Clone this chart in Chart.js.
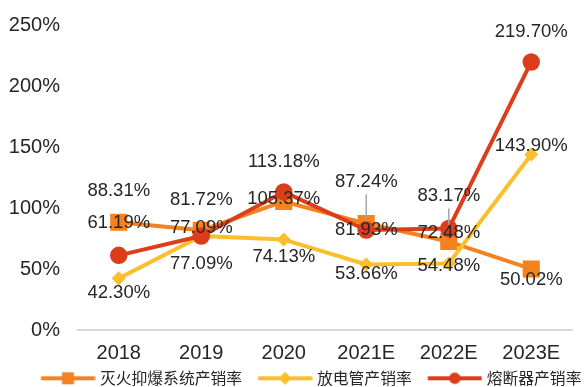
<!DOCTYPE html>
<html>
<head>
<meta charset="utf-8">
<script src="https://cdn.jsdelivr.net/npm/chart.js@4.4.1/dist/chart.umd.min.js"></script>
<style>
  html, body { margin: 0; padding: 0; background: #fff; overflow: hidden; }
  #wrap { width: 585px; height: 387px; position: relative; }
</style>
</head>
<body>
<div id="wrap"><canvas id="rate-chart"></canvas></div>
<script>
// categories and series (percent)
const years = ["2018", "2019", "2020", "2021E", "2022E", "2023E"];
const fireRate = [88.31, 81.72, 105.37, 87.24, 72.48, 50.02];
const tubeRate = [42.3, 77.09, 74.13, 53.66, 54.48, 143.9];
const fuseRate = [61.19, 77.09, 113.18, 81.93, 83.17, 219.7];
const yMax = 250;
const yStep = 50;

// label placement (vertical shift in px from the point), styling only
const fireLabelDy = [-31, -30, -3, -42, -9, 11];
const tubeLabelDy = [15, 28, 17, 9, 2, -9];
const fuseLabelDy = [-32, -8, -30, 0, -33, -30];
const fireLeader = [false, false, false, true, false, false];
const fuseLeader = [false, false, false, false, true, false];

const ORANGE = "#F4821F";
const YELLOW = "#FBBE2C";
const RED = "#DC3D1B";
const TEXT = "#262626";

// legend swatch: line with the marker in its middle
function legendIcon(color, style) {
  const c = document.createElement("canvas");
  c.width = 74;
  c.height = 16;
  const g = c.getContext("2d");
  g.strokeStyle = color;
  g.fillStyle = color;
  g.lineWidth = 4;
  g.beginPath();
  g.moveTo(19.5, 8);
  g.lineTo(73.5, 8);
  g.stroke();
  const cx = 46.5, cy = 8;
  g.beginPath();
  if (style === "rect") {
    g.rect(cx - 6, cy - 6, 12, 12);
  } else if (style === "rectRot") {
    g.moveTo(cx - 6.5, cy);
    g.lineTo(cx, cy - 6.5);
    g.lineTo(cx + 6.5, cy);
    g.lineTo(cx, cy + 6.5);
    g.closePath();
  } else {
    g.arc(cx, cy, 5.8, 0, Math.PI * 2);
  }
  g.fill();
  return c;
}

const icons = [legendIcon(ORANGE, "rect"), legendIcon(YELLOW, "rectRot"), legendIcon(RED, "circle")];

const labelPlugin = {
  id: "pointLabels",
  beforeDraw(chart) {
    // nudge the legend row to the right like the original
    if (chart.legend) chart.legend.left = 25;
  },
  afterDatasetsDraw(chart) {
    const ctx = chart.ctx;
    ctx.save();
    ctx.font = "18.5px 'Liberation Sans', Arial, sans-serif";
    ctx.fillStyle = TEXT;
    ctx.textAlign = "center";
    ctx.textBaseline = "middle";
    chart.data.datasets.forEach((ds, i) => {
      const meta = chart.getDatasetMeta(i);
      meta.data.forEach((pt, j) => {
        const y = pt.y + ds.labelDy[j];
        if (ds.leader[j]) {
          ctx.strokeStyle = "#a6a6a6";
          ctx.lineWidth = 1.5;
          ctx.beginPath();
          ctx.moveTo(pt.x, y + 13);
          ctx.lineTo(pt.x, pt.y - 4);
          ctx.stroke();
        }
        ctx.fillText(ds.data[j].toFixed(2) + "%", pt.x, y);
      });
    });
    ctx.restore();
  },
};

const common = {
  borderWidth: 4,
  borderJoinStyle: "round",
  borderCapStyle: "round",
  tension: 0,
  pointBorderWidth: 1.5,
};

const chartData = {
  labels: years,
  datasets: [
    {
      ...common,
      label: "灭火抑爆系统产销率",
      data: fireRate,
      borderColor: ORANGE,
      backgroundColor: ORANGE,
      pointStyle: "rect",
      pointRadius: 11,
      order: 2,
      labelDy: fireLabelDy,
      leader: fireLeader,
    },
    {
      ...common,
      label: "放电管产销率",
      data: tubeRate,
      borderColor: YELLOW,
      backgroundColor: YELLOW,
      pointStyle: "rectRot",
      pointRadius: 6,
      order: 1,
      labelDy: tubeLabelDy,
      leader: [false, false, false, false, false, false],
    },
    {
      ...common,
      label: "熔断器产销率",
      data: fuseRate,
      borderColor: RED,
      backgroundColor: RED,
      pointStyle: "circle",
      pointRadius: 8,
      order: 0,
      labelDy: fuseLabelDy,
      leader: fuseLeader,
    },
  ],
};

const config = {
  type: "line",
  data: chartData,
  options: {
    responsive: true,
    maintainAspectRatio: false,
    animation: false,
    layout: {
      padding: { top: 25, left: 0, right: -6.6, bottom: -9.2 },
    },
    plugins: {
      tooltip: { enabled: false },
      legend: {
        position: "bottom",
        align: "start",
        labels: {
          usePointStyle: true,
          pointStyleWidth: 67,
          padding: 0,
          color: TEXT,
          font: { family: "'Noto Sans CJK SC', sans-serif", size: 15.8 },
          sort: (a, b) => a.datasetIndex - b.datasetIndex,
          generateLabels(chart) {
            const items = Chart.defaults.plugins.legend.labels.generateLabels(chart);
            items.forEach((it) => {
              it.pointStyle = icons[it.datasetIndex];
            });
            return items;
          },
        },
      },
    },
    scales: {
      x: {
        offset: true,
        grid: { display: false, drawTicks: false },
        border: { display: true, color: "#d9d9d9", width: 2 },
        ticks: {
          color: TEXT,
          padding: 11.5,
          font: { family: "'Liberation Sans', Arial, sans-serif", size: 20 },
        },
        afterFit(scale) {
          scale.height = 40.4;
        },
      },
      y: {
        min: 0,
        max: yMax,
        grid: { display: false, drawTicks: false },
        border: { display: false },
        ticks: {
          stepSize: yStep,
          color: TEXT,
          padding: 17.5,
          font: { family: "'Liberation Sans', Arial, sans-serif", size: 20 },
          callback: (v) => v + "%",
        },
        afterFit(scale) {
          scale.width = 77.5;
          scale.paddingTop = 10;
          scale.paddingBottom = 10;
        },
      },
    },
  },
  plugins: [labelPlugin],
};

const ctx = document.getElementById("rate-chart").getContext("2d");
const rateChart = new Chart(ctx, config);
</script>
</body>
</html>
